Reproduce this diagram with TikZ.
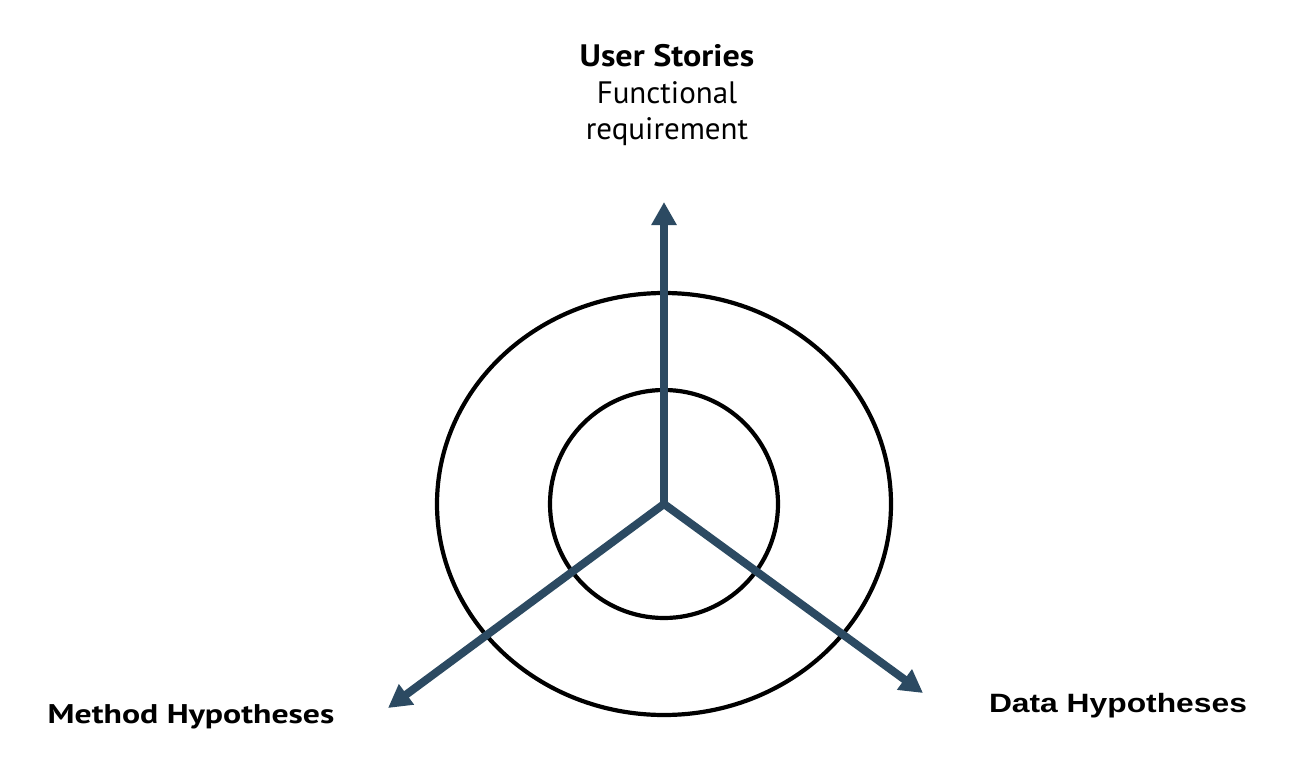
\documentclass[tikz,border=0pt]{standalone}
\usepackage{fontspec}
\setmainfont{PT Sans}
\newfontfamily\arialfont[FakeStretch=1.2]{Liberation Sans}
\newfontfamily\ptwide[FakeStretch=1.25]{PT Sans}
\newfontfamily\pttitle[FakeStretch=1.1]{PT Sans}
\usetikzlibrary{arrows.meta}
\definecolor{axisblue}{RGB}{44,74,98}
\begin{document}
\begin{tikzpicture}[x=1pt,y=-1pt,
  ring/.style={draw=black,line width=4.2pt},
  axis/.style={draw=axisblue,line width=8pt,-{Triangle[length=23pt,width=24pt]}},
  lbl/.style={inner sep=0pt,anchor=base}]
\useasboundingbox (0,0) rectangle (1292,778);
\fill[white] (0,0) rectangle (1292,778);
\coordinate (c) at (664,504);
\coordinate (up) at (664,202);
\coordinate (ml) at (388,708);
\coordinate (dr) at (923,693);
\draw[ring] (c) ellipse [x radius=227, y radius=211];
\draw[ring] (c) circle [radius=114];
\draw[axis] (c) -- (up);
\draw[axis] (c) -- (ml);
\draw[axis] (c) -- (dr);
\node[lbl,align=center,font=\fontsize{31}{36.5}\selectfont] (us) at (667,140) {{\pttitle\bfseries User Stories}\\Functional\\requirement};
\node[lbl,font=\fontsize{27}{32}\selectfont\ptwide\bfseries] (mh) at (191,723) {Method Hypotheses};
\node[lbl,font=\fontsize{26.5}{32}\selectfont\arialfont\bfseries] (dh) at (1118,712) {Data Hypotheses};
\end{tikzpicture}
\end{document}
